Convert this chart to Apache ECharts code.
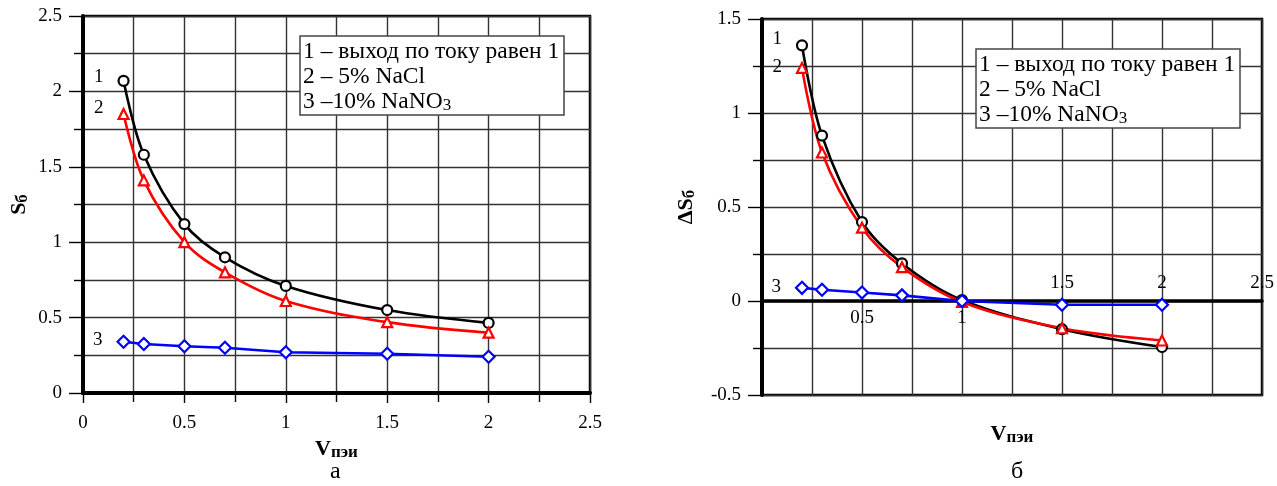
<!DOCTYPE html>
<html>
<head>
  <meta charset="utf-8">
  <title>ECharts</title>
  <script src="https://cdn.jsdelivr.net/npm/echarts@6/dist/echarts.min.js"></script>
  <style>
  html, body { margin: 0; background: #fff; }
  #main { width: 1277px; height: 486px; }
  </style>
</head>
<body>
  <div id="main"></div>
  <script type="text/javascript">
  // V_пэи values, same for all curves
  var vPei = [0.2, 0.3, 0.5, 0.7, 1, 1.5, 2];
  // panel a: S_б
  var sCur1 = [2.07, 1.58, 1.12, 0.90, 0.71, 0.55, 0.465];
  var sNaCl = [1.85, 1.41, 1.00, 0.80, 0.61, 0.47, 0.40];
  var sNaNO3 = [0.34, 0.325, 0.31, 0.30, 0.27, 0.26, 0.24];
  // panel б: delta S_б
  var dCur1 = [1.36, 0.88, 0.42, 0.20, 0.005, -0.15, -0.245];
  var dNaCl = [1.24, 0.79, 0.39, 0.18, -0.005, -0.145, -0.21];
  var dNaNO3 = [0.07, 0.06, 0.045, 0.03, 0.0, -0.02, -0.02];
  var curveNames = ['1', '2', '3'];
  var legendLines = ['1 – выход по току равен 1', '2 – 5% NaCl', '3 –10% NaNO{sub|3}'];
  var bottomLabelsB = ['0.5', '1'];
  var topLabelsB = ['1.5', '2', '2.5'];

  var serif = 'Liberation Serif';
  var gridLine = { color: '#333', width: 1.4 };

  function pts(ys, name, offset) {
    return vPei.map(function (x, i) {
      if (i > 0) return [x, ys[i]];
      return {
        value: [x, ys[i]],
        label: { show: true, formatter: name, position: 'left', distance: 14, offset: offset,
          fontFamily: serif, fontSize: 19, color: '#000' }
      };
    });
  }

  function curve(idx, ys, name, color, symbol, size, smooth, offset) {
    return {
      type: 'line', xAxisIndex: idx, yAxisIndex: idx,
      data: pts(ys, name, offset),
      smooth: smooth,
      symbol: symbol, symbolSize: size,
      showAllSymbol: true,
      itemStyle: { color: '#fff', borderColor: color, borderWidth: 2.2 },
      lineStyle: { color: color, width: 2.6 },
      animation: false
    };
  }

  function legendBox(left, top) {
    return {
      left: left, top: top,
      text: legendLines.join('\n'),
      backgroundColor: '#fff',
      borderColor: '#444', borderWidth: 1.5,
      padding: [3, 5, 1, 3],
      textStyle: {
        fontFamily: serif, fontSize: 23.5, fontWeight: 'normal', color: '#000', lineHeight: 25,
        rich: { sub: { fontFamily: serif, fontSize: 17, color: '#000', padding: [8, 0, 0, 0] } }
      },
      z: 10
    };
  }

  function pickLabels(list) {
    return function (v) { var s = String(v); return list.indexOf(s) >= 0 ? s : ''; };
  }

  function nameStyle(lh) {
    return {
      fontFamily: serif, color: '#000',
      rich: {
        big: { fontFamily: serif, fontSize: 22, fontWeight: 'bold', color: '#000', lineHeight: lh },
        small: { fontFamily: serif, fontSize: 17, fontWeight: 'bold', color: '#000', lineHeight: lh, padding: [6, 0, 0, 0] }
      }
    };
  }
  var axisName = nameStyle(null);
  var tickLabel = { fontFamily: serif, fontSize: 19, color: '#000' };
  var hiddenY = function (grid) {
    return { gridIndex: grid, type: 'value', min: -0.5, max: 1.5, show: false,
      axisLine: { show: false, onZero: false }, splitLine: { show: false } };
  };

  var myChart = echarts.init(document.getElementById('main'));
  var option = {
    backgroundColor: '#fff',
    title: [
      legendBox(300, 36),
      legendBox(976, 49),
      { text: 'а', left: 325, top: 455, textStyle: { fontFamily: serif, fontSize: 24, fontWeight: 'normal', color: '#000' } },
      { text: 'б', left: 1006, top: 455, textStyle: { fontFamily: serif, fontSize: 24, fontWeight: 'normal', color: '#000' } }
    ],
    grid: [
      { left: 83, top: 16, width: 507, height: 377, outerBoundsMode: 'none', show: true, borderColor: '#000', borderWidth: 2.5, backgroundColor: 'transparent' },
      { left: 762, top: 19, width: 500, height: 376, outerBoundsMode: 'none', show: true, borderColor: '#000', borderWidth: 2.5, backgroundColor: 'transparent' },
      // helper strips above / below the zero line of panel б, only for tick labels
      { left: 762, top: 19, width: 500, height: 282, outerBoundsMode: 'none' },
      { left: 762, top: 301, width: 500, height: 94, outerBoundsMode: 'none' }
    ],
    xAxis: [
      {
        gridIndex: 0, type: 'value', min: 0, max: 2.5, interval: 0.5,
        name: '{big|V}{small|пэи}', nameLocation: 'middle', nameGap: 28, nameTextStyle: nameStyle(8),
        axisLine: { lineStyle: { color: '#000', width: 4 } },
        axisTick: { show: true, length: 10, lineStyle: { color: '#000', width: 1.4 } },
        minorTick: { show: true, splitNumber: 2, length: 9, lineStyle: { color: '#000', width: 1.4 } },
        axisLabel: Object.assign({ margin: 21 }, tickLabel),
        splitLine: { show: true, lineStyle: gridLine },
        minorSplitLine: { show: true, lineStyle: gridLine }
      },
      {
        gridIndex: 1, type: 'value', min: 0, max: 2.5, interval: 0.5, position: 'bottom',
        name: '{big|V}{small|пэи}', nameLocation: 'middle', nameGap: 28, nameTextStyle: axisName,
        axisLine: { onZero: true, lineStyle: { color: '#000', width: 3.5 } },
        axisTick: { show: false },
        axisLabel: { show: false },
        splitLine: { show: true, lineStyle: gridLine },
        minorTick: { show: false, splitNumber: 2 },
        minorSplitLine: { show: true, lineStyle: gridLine }
      },
      {
        gridIndex: 2, type: 'value', min: 0, max: 2.5, interval: 0.5, position: 'bottom',
        axisLine: { show: false, onZero: false }, axisTick: { show: false },
        axisLabel: Object.assign({ margin: 8, formatter: pickLabels(bottomLabelsB) }, tickLabel),
        splitLine: { show: false }
      },
      {
        gridIndex: 3, type: 'value', min: 0, max: 2.5, interval: 0.5, position: 'top',
        axisLine: { show: false, onZero: false }, axisTick: { show: false },
        axisLabel: Object.assign({ margin: 8, formatter: pickLabels(topLabelsB) }, tickLabel),
        splitLine: { show: false }
      }
    ],
    yAxis: [
      {
        gridIndex: 0, type: 'value', min: 0, max: 2.5, interval: 0.5,
        name: '{big|S}{small|б}', nameLocation: 'middle', nameGap: 52, nameTextStyle: axisName,
        axisLine: { lineStyle: { color: '#000', width: 4 } },
        axisTick: { show: true, length: 14, lineStyle: { color: '#000', width: 1.4 } },
        minorTick: { show: true, splitNumber: 2, length: 9, lineStyle: { color: '#000', width: 1.4 } },
        axisLabel: Object.assign({ margin: 21 }, tickLabel),
        splitLine: { show: true, lineStyle: gridLine },
        minorSplitLine: { show: true, lineStyle: gridLine }
      },
      {
        gridIndex: 1, type: 'value', min: -0.5, max: 1.5, interval: 0.5,
        name: '{big|ΔS}{small|б}', nameLocation: 'middle', nameGap: 64, nameTextStyle: axisName,
        axisLine: { onZero: false, lineStyle: { color: '#000', width: 4 } },
        axisTick: { show: true, length: 14, lineStyle: { color: '#000', width: 1.4 } },
        minorTick: { show: true, splitNumber: 2, length: 9, lineStyle: { color: '#000', width: 1.4 } },
        axisLabel: Object.assign({ margin: 21 }, tickLabel),
        splitLine: { show: true, lineStyle: gridLine },
        minorSplitLine: { show: true, lineStyle: gridLine }
      },
      hiddenY(2),
      hiddenY(3)
    ],
    series: [
      curve(0, sCur1, curveNames[0], '#000', 'circle', 10, 0.35, [0, -4]),
      curve(0, sNaCl, curveNames[1], '#ff0000', 'triangle', 10, 0.35, [0, -6]),
      curve(0, sNaNO3, curveNames[2], '#0000ff', 'diamond', 12, false, [0, -2]),
      curve(1, dCur1, curveNames[0], '#000', 'circle', 10, 0.35, [0, -6]),
      curve(1, dNaCl, curveNames[1], '#ff0000', 'triangle', 10, 0.35, [0, -1]),
      curve(1, dNaNO3, curveNames[2], '#0000ff', 'diamond', 12, false, [0, -1])
    ]
  };
  myChart.setOption(option);
  window.onresize = myChart.resize;
  </script>
</body>
</html>
